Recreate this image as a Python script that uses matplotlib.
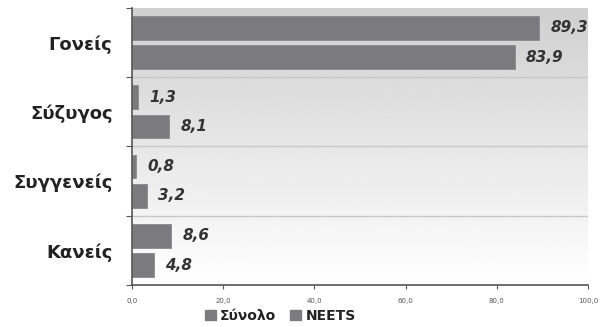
import numpy as np
import matplotlib.pyplot as plt
from matplotlib.patches import Patch

# Data
categories = ["Γονείς", "Σύζυγος", "Συγγενείς", "Κανείς"]
total_values = [89.3, 1.3, 0.8, 8.6]
neets_values = [83.9, 8.1, 3.2, 4.8]
series_names = ["Σύνολο", "NEETS"]
x_ticks = [0, 20, 40, 60, 80, 100]

bar_color = "#7b7b7d"

fig = plt.figure(figsize=(6.03, 3.27), dpi=100)
ax = fig.add_axes([0.219, 0.128, 0.756, 0.848])

n = len(categories)
ax.set_xlim(0, 100)
ax.set_ylim(n, 0)

# Vertical gradient background (darker at top)
grad = np.linspace(0.81, 1.0, 256).reshape(-1, 1)
ax.imshow(grad, cmap="gray", vmin=0, vmax=1, aspect="auto",
          extent=[0, 100, n, 0], zorder=0)

centers = np.arange(n) + 0.5
offset = 0.21
height = 0.34
ax.barh(centers - offset, total_values, height=height, color=bar_color,
        edgecolor="#8a8a8c", linewidth=0.6, zorder=2)
ax.barh(centers + offset, neets_values, height=height, color=bar_color,
        edgecolor="#8a8a8c", linewidth=0.6, zorder=2)

# Value labels
for c, v in zip(centers - offset, total_values):
    ax.text(v + 2.5, c, f"{v:.1f}".replace(".", ","), va="center", ha="left",
            fontsize=11, fontweight="bold", style="italic", color="#333333",
            clip_on=False)
for c, v in zip(centers + offset, neets_values):
    ax.text(v + 2.5, c, f"{v:.1f}".replace(".", ","), va="center", ha="left",
            fontsize=11, fontweight="bold", style="italic", color="#333333",
            clip_on=False)

# Group separators
for b in range(1, n):
    ax.axhline(b, color="#c8c8c8", linewidth=1, zorder=1)

# Y axis: ticks at group boundaries, labels at centers
ax.set_yticks(np.arange(n + 1))
ax.set_yticklabels([])
ax.set_yticks(centers, minor=True)
ax.set_yticklabels(categories, minor=True, fontsize=13, fontweight="bold",
                   color="#222222")
ax.tick_params(axis="y", which="minor", length=0, pad=14)
ax.tick_params(axis="y", which="major", length=4, color="#555555")

ax.set_xticks(x_ticks)
ax.set_xticklabels([f"{t:.1f}".replace(".", ",") for t in x_ticks],
                   fontsize=5, color="#555555")
ax.tick_params(axis="x", length=3, color="#555555", pad=6)

for s in ["top", "right"]:
    ax.spines[s].set_visible(False)
for s in ["left", "bottom"]:
    ax.spines[s].set_color("#555555")
    ax.spines[s].set_linewidth(1.2)

handles = [Patch(facecolor=bar_color, edgecolor=bar_color) for _ in series_names]
leg = fig.legend(handles, series_names, loc="lower center",
                 bbox_to_anchor=(0.465, -0.025), ncol=2, frameon=False,
                 handlelength=0.8, handleheight=0.8, handletextpad=0.3,
                 columnspacing=1.0, prop={"weight": "bold", "size": 10})
for t in leg.get_texts():
    t.set_color("#222222")

fig.savefig("out.png", dpi=100)
